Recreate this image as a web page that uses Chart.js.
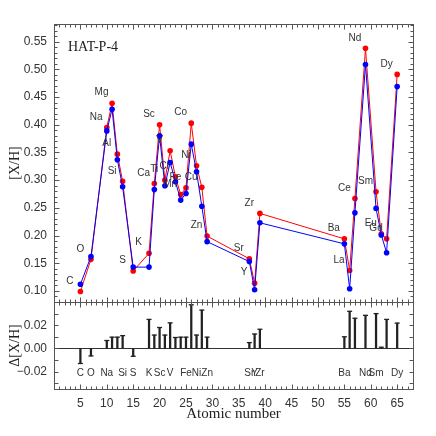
<!DOCTYPE html>
<html>
<head>
<meta charset="utf-8">
<script src="https://cdn.jsdelivr.net/npm/chart.js@4.4.1/dist/chart.umd.min.js"></script>
<style>
  body { margin: 0; background: #fff; }
  #wrap { position: relative; width: 436px; height: 436px; }
  #topChart { position: absolute; left: 0; top: 0; }
  #botChart { position: absolute; left: 0; top: 302px; }
</style>
</head>
<body>
<div id="wrap">
  <canvas id="topChart" width="436" height="304"></canvas>
  <canvas id="botChart" width="436" height="134"></canvas>
</div>
<script>
// element names and their position on the atomic-number axis
const elements  = ['C','O','Na','Mg','Al','Si','S','K','Ca','Sc','Ti','V','Cr','Mn','Fe','Co','Ni','Cu','Zn','Sr','Y','Zr','Ba','La','Ce','Nd','Sm','Eu','Gd','Dy'];
const atomicPos = [5,7,10,11,12,13,15,18,19,20,21,22,23,24,25,26,27,28,29,37,38,39,55,56,57,59,61,62,63,65];

// [X/H] for the two solutions (red / blue)
const redXH  = [0.099,0.157,0.395,0.439,0.347,0.298,0.136,0.168,0.294,0.400,0.300,0.353,0.306,0.274,0.286,0.403,0.326,0.287,0.199,0.158,0.114,0.240,0.194,0.137,0.267,0.538,0.279,0.203,0.194,0.491];
const blueXH = [0.112,0.162,0.389,0.428,0.337,0.288,0.143,0.143,0.283,0.380,0.290,0.332,0.297,0.264,0.276,0.365,0.315,0.253,0.189,0.153,0.102,0.223,0.185,0.104,0.241,0.509,0.249,0.201,0.169,0.469];

// difference panel
const deltaXH = [-0.013,-0.0065,0.0068,0.0097,0.0097,0.011,-0.0068,0.025,0.0115,0.018,0.0115,0.022,0.0094,0.0097,0.0097,0.0376,0.0115,0.033,0.0097,0.005,0.0124,0.0165,0.010,0.032,0.026,0.0285,0.030,0.001,0.025,0.0218];
const bottomLabels = ['C','O','Na','Si','S','K','Sc','V','Fe','Ni','Zn','Sr','Y','Zr','Ba','Nd','Sm','Dy'];

// tick labels
const xTicks    = [5,10,15,20,25,30,35,40,45,50,55,60,65];
const yTopTicks = [0.10,0.15,0.20,0.25,0.30,0.35,0.40,0.45,0.50,0.55];
const yBotTicks = [-0.02,0.00,0.02];

const starName = 'HAT-P-4';

const SANS  = '"Liberation Sans", Arial, sans-serif';
const SERIF = '"Liberation Serif", "Times New Roman", serif';
const INK   = '#333';

// box with inward ticks on all four sides
const frameTicks = {
  id: 'frameTicks',
  afterDraw(chart, args, o) {
    const { ctx, chartArea: a, scales } = chart;
    const x = scales.x, y = scales.y;
    const L = Math.round(a.left) + 0.5, R = Math.round(a.right) + 0.5;
    const T = Math.round(a.top) + 0.5, B = Math.round(a.bottom) + 0.5;
    ctx.save();
    ctx.strokeStyle = '#555';
    ctx.lineWidth = 1;
    ctx.beginPath();
    for (let k = Math.ceil(x.min / o.xMinor - 1e-9); k * o.xMinor <= x.max + 1e-9; k++) {
      const px = Math.round(x.getPixelForValue(k * o.xMinor)) + 0.5;
      const len = (k % o.xEvery === 0) ? 5 : 3;
      ctx.moveTo(px, T); ctx.lineTo(px, T + len);
      ctx.moveTo(px, B); ctx.lineTo(px, B - len);
    }
    for (let k = Math.ceil(y.min / o.yMinor - 1e-9); k * o.yMinor <= y.max + 1e-9; k++) {
      const py = Math.round(y.getPixelForValue(k * o.yMinor)) + 0.5;
      const len = (k % o.yEvery === 0) ? o.yMajorLen : o.yMinorLen;
      ctx.moveTo(L, py); ctx.lineTo(L + len, py);
      ctx.moveTo(R, py); ctx.lineTo(R - len, py);
    }
    ctx.stroke();
    ctx.strokeRect(L, T, R - L, B - T);
    ctx.restore();
  }
};

// element names next to the points + star name
const topLabels = {
  id: 'topLabels',
  afterDatasetsDraw(chart) {
    const { ctx, chartArea: a, scales: { x, y } } = chart;
    ctx.save();
    ctx.fillStyle = INK;
    ctx.font = '10px ' + SANS;
    ctx.textAlign = 'center';
    ctx.textBaseline = 'middle';
    elements.forEach((el, i) => {
      ctx.fillText(el, x.getPixelForValue(atomicPos[i] - 2), y.getPixelForValue(redXH[i] + 0.019));
    });
    ctx.font = '14px ' + SERIF;
    ctx.fillStyle = '#222';
    ctx.textAlign = 'left';
    ctx.fillText(starName, a.left + 14, a.top + 23);
    ctx.restore();
  }
};

const botExtras = {
  id: 'botExtras',
  beforeDatasetsDraw(chart) {
    const { ctx, chartArea: a, scales: { x, y } } = chart;
    const py = Math.round(y.getPixelForValue(0)) + 0.5;
    ctx.save();
    ctx.strokeStyle = '#333';
    ctx.lineWidth = 1;
    ctx.beginPath();
    ctx.moveTo(a.left, py); ctx.lineTo(a.right, py);
    ctx.stroke();
    ctx.fillStyle = INK;
    ctx.font = '10px ' + SANS;
    ctx.textAlign = 'center';
    ctx.textBaseline = 'middle';
    bottomLabels.forEach(el => {
      const i = elements.indexOf(el);
      ctx.fillText(el, x.getPixelForValue(atomicPos[i]), y.getPixelForValue(-0.0215));
    });
    ctx.restore();
  }
};

const fmt = v => v.toFixed(2).replace('-', '\u2212');

// fixed-size axes, no automatic label padding
const fixY = s => { s.width = 54; s.paddingTop = 0; s.paddingBottom = 0; };
const fixX = s => { s.height = 47; s.paddingLeft = 0; s.paddingRight = 0; };

function drawTop() {
  const ctx = document.getElementById('topChart').getContext('2d');
  new Chart(ctx, {
    type: 'scatter',
    data: {
      datasets: [
        {
          data: atomicPos.map((z, i) => ({ x: z, y: blueXH[i] })),
          showLine: true,
          borderColor: '#0000ff',
          backgroundColor: '#0000ff',
          borderWidth: 1,
          pointRadius: 2.8,
          pointBorderWidth: 0,
          order: 1
        },
        {
          data: atomicPos.map((z, i) => ({ x: z, y: redXH[i] })),
          showLine: true,
          borderColor: '#ff0000',
          backgroundColor: '#ff0000',
          borderWidth: 1,
          pointRadius: 2.8,
          pointBorderWidth: 0,
          order: 2
        }
      ]
    },
    options: {
      responsive: false,
      animation: false,
      devicePixelRatio: 1,
      clip: false,
      layout: { autoPadding: false, padding: { top: 24, right: 23, bottom: 2, left: 0 } },
      plugins: {
        legend: { display: false },
        tooltip: { enabled: false },
        frameTicks: { xMinor: 1, xEvery: 5, yMinor: 0.01, yEvery: 5, yMajorLen: 5, yMinorLen: 3 }
      },
      scales: {
        x: { type: 'linear', min: 0, max: 68, display: false },
        y: {
          min: 0.08, max: 0.582,
          afterFit: fixY,
          afterBuildTicks: s => { s.ticks = yTopTicks.map(v => ({ value: v })); },
          grid: { display: false, drawTicks: false },
          border: { display: false },
          ticks: { callback: fmt, color: INK, padding: 7, font: { family: SANS, size: 12 } },
          title: { display: true, text: '[X/H]', color: '#222', padding: { top: 7, bottom: 0 }, font: { family: SERIF, size: 14 } }
        }
      }
    },
    plugins: [frameTicks, topLabels]
  });
}

function drawBottom() {
  const ctx = document.getElementById('botChart').getContext('2d');
  new Chart(ctx, {
    type: 'bar',
    data: {
      datasets: [
        {
          type: 'bar',
          data: atomicPos.map((z, i) => ({ x: z, y: deltaXH[i] })),
          backgroundColor: '#222',
          barThickness: 1.6
        },
        {
          type: 'scatter',
          data: atomicPos.map((z, i) => ({ x: z, y: deltaXH[i] })),
          pointStyle: 'line',
          pointRadius: 2.5,
          borderColor: '#222',
          borderWidth: 1.3
        }
      ]
    },
    options: {
      responsive: false,
      animation: false,
      devicePixelRatio: 1,
      layout: { autoPadding: false, padding: { top: 0, right: 23, bottom: 0, left: 0 } },
      plugins: {
        legend: { display: false },
        tooltip: { enabled: false },
        frameTicks: { xMinor: 1, xEvery: 5, yMinor: 0.01, yEvery: 2, yMajorLen: 4, yMinorLen: 4 }
      },
      scales: {
        x: {
          type: 'linear', min: 0, max: 68, offset: false,
          afterFit: fixX,
          afterBuildTicks: s => { s.ticks = xTicks.map(v => ({ value: v })); },
          grid: { display: false, drawTicks: false, offset: false },
          border: { display: false },
          ticks: { color: INK, padding: 7, maxRotation: 0, font: { family: SANS, size: 12 } },
          title: { display: true, text: 'Atomic number', color: '#222', padding: { top: 0, bottom: 13 }, font: { family: SERIF, size: 15 } }
        },
        y: {
          min: -0.035, max: 0.04,
          afterFit: fixY,
          afterBuildTicks: s => { s.ticks = yBotTicks.map(v => ({ value: v })); },
          grid: { display: false, drawTicks: false },
          border: { display: false },
          ticks: { callback: fmt, color: INK, padding: 7, font: { family: SANS, size: 12 } },
          title: { display: true, text: '\u0394[X/H]', color: '#222', padding: { top: 7, bottom: 0 }, font: { family: SERIF, size: 14 } }
        }
      }
    },
    plugins: [frameTicks, botExtras]
  });
}

window.addEventListener('DOMContentLoaded', () => {
  drawTop();
  drawBottom();
});
</script>
</body>
</html>
